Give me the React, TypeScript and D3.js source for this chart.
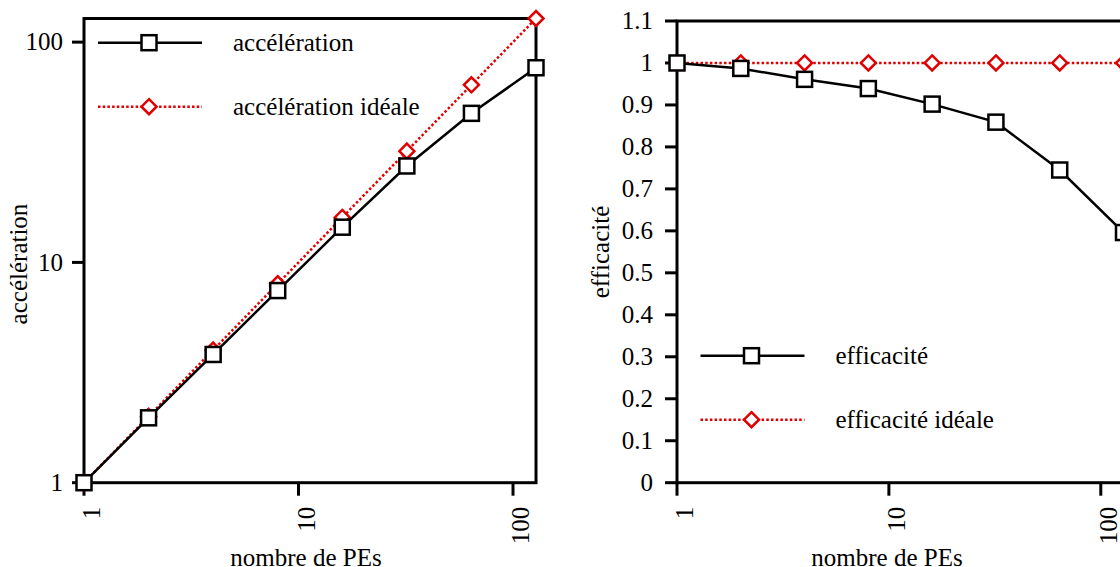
import React from "react";
import * as d3 from "d3";

const pes = [1, 2, 4, 8, 16, 32, 64, 128];
const speedup = [1, 1.97, 3.82, 7.45, 14.45, 27.4, 47.5, 76.5];
const idealSpeedup = [1, 2, 4, 8, 16, 32, 64, 128];
const efficiency = [1, 0.987, 0.961, 0.939, 0.902, 0.859, 0.745, 0.596];
const idealEfficiency = [1, 1, 1, 1, 1, 1, 1, 1];

const xTicks = [1, 10, 100];
const speedupTicks = [1, 10, 100];
const efficiencyTicks = [0, 0.1, 0.2, 0.3, 0.4, 0.5, 0.6, 0.7, 0.8, 0.9, 1, 1.1];
const efficiencyTickLabels = ["0", "0.1", "0.2", "0.3", "0.4", "0.5", "0.6", "0.7", "0.8", "0.9", "1", "1.1"];

const RED = "#e00000";
const FONT = "'Liberation Serif', 'DejaVu Serif', serif";
const FS = 25;

function Square({ x, y }: { x: number; y: number }) {
  return <rect x={x - 7.5} y={y - 7.5} width={15} height={15} fill="#fff" stroke="#000" strokeWidth={2.5} />;
}

function Diamond({ x, y }: { x: number; y: number }) {
  const r = 7.5;
  return (
    <path
      d={`M${x},${y - r}L${x + r},${y}L${x},${y + r}L${x - r},${y}Z`}
      fill="#fff"
      stroke={RED}
      strokeWidth={2.5}
    />
  );
}

type PanelProps = {
  x: d3.ScaleLogarithmic<number, number>;
  y: any;
  yTicks: number[];
  yLabels: string[];
  measured: number[];
  ideal: number[];
  yTitle: string;
  yTitleX: number;
  yTitleY: number;
  xTitleX: number;
  labelGap: number;
  legend: { x: number; y: number; names: string[] };
};

function Panel(p: PanelProps) {
  const { x, y } = p;
  const [x0, x1] = x.range();
  const [yb, yt] = y.range();
  const line = d3
    .line<number>()
    .x((_, i) => x(pes[i]))
    .y((d) => y(d));
  const lg = p.legend;

  return (
    <g fontFamily={FONT} fontSize={FS} fill="#000">
      {/* ticks */}
      {p.yTicks.map((t, i) => (
        <g key={"y" + i}>
          <line x1={x0 - 12} x2={x0} y1={y(t)} y2={y(t)} stroke="#000" strokeWidth={3} />
          <text x={x0 - p.labelGap} y={y(t)} dy="0.33em" textAnchor="end">
            {p.yLabels[i]}
          </text>
        </g>
      ))}
      {xTicks.map((t) => (
        <g key={"x" + t}>
          <line x1={x(t)} x2={x(t)} y1={yb} y2={yb + 13} stroke="#000" strokeWidth={3} />
          <text transform={`translate(${x(t) + 16},${yb + 24}) rotate(-90)`} textAnchor="end">
            {t}
          </text>
        </g>
      ))}
      {/* border */}
      <rect x={x0} y={yt} width={x1 - x0} height={yb - yt} fill="none" stroke="#000" strokeWidth={3} />

      {/* titles */}
      <text transform={`translate(${p.yTitleX},${p.yTitleY}) rotate(-90)`} textAnchor="middle">
        {p.yTitle}
      </text>
      <text x={p.xTitleX} y={566} textAnchor="middle">
        nombre de PEs
      </text>

      {/* ideal series */}
      <path d={line(p.ideal) || ""} fill="none" stroke={RED} strokeWidth={2.5} strokeDasharray="2.5,2.2" />
      {p.ideal.map((d, i) => (
        <Diamond key={"d" + i} x={x(pes[i])} y={y(d)} />
      ))}

      {/* measured series */}
      <path d={line(p.measured) || ""} fill="none" stroke="#000" strokeWidth={2.5} />
      {p.measured.map((d, i) => (
        <Square key={"s" + i} x={x(pes[i])} y={y(d)} />
      ))}

      {/* legend */}
      <line x1={lg.x} x2={lg.x + 104} y1={lg.y} y2={lg.y} stroke="#000" strokeWidth={2.5} />
      <Square x={lg.x + 51} y={lg.y} />
      <text x={lg.x + 135} y={lg.y + 8}>
        {lg.names[0]}
      </text>
      <line
        x1={lg.x}
        x2={lg.x + 104}
        y1={lg.y + 64}
        y2={lg.y + 64}
        stroke={RED}
        strokeWidth={2.5}
        strokeDasharray="2.5,2.2"
      />
      <Diamond x={lg.x + 51} y={lg.y + 64} />
      <text x={lg.x + 135} y={lg.y + 72}>
        {lg.names[1]}
      </text>
    </g>
  );
}

export default function App() {
  const xLeft = d3.scaleLog().domain([1, 128]).range([84, 536]);
  const yLeft = d3.scaleLog().domain([1, 128]).range([482.7, 18.5]);
  const xRight = d3.scaleLog().domain([1, 128]).range([677, 1123.5]);
  const yRight = d3.scaleLinear().domain([0, 1.1]).range([482.7, 21]);

  return (
    <svg width={1120} height={567} style={{ position: "absolute", left: 0, top: 0, background: "#fff" }}>
      <rect width={1120} height={567} fill="#fff" />
      <Panel
        x={xLeft}
        y={yLeft}
        yTicks={speedupTicks}
        yLabels={speedupTicks.map(String)}
        measured={speedup}
        ideal={idealSpeedup}
        yTitle="accélération"
        yTitleX={27}
        yTitleY={264}
        xTitleX={306}
        labelGap={21}
        legend={{ x: 98, y: 42.7, names: ["accélération", "accélération idéale"] }}
      />
      <Panel
        x={xRight}
        y={yRight}
        yTicks={efficiencyTicks}
        yLabels={efficiencyTickLabels}
        measured={efficiency}
        ideal={idealEfficiency}
        yTitle="efficacité"
        yTitleX={609}
        yTitleY={252}
        xTitleX={887}
        labelGap={24}
        legend={{ x: 700.5, y: 355.7, names: ["efficacité", "efficacité idéale"] }}
      />
    </svg>
  );
}
